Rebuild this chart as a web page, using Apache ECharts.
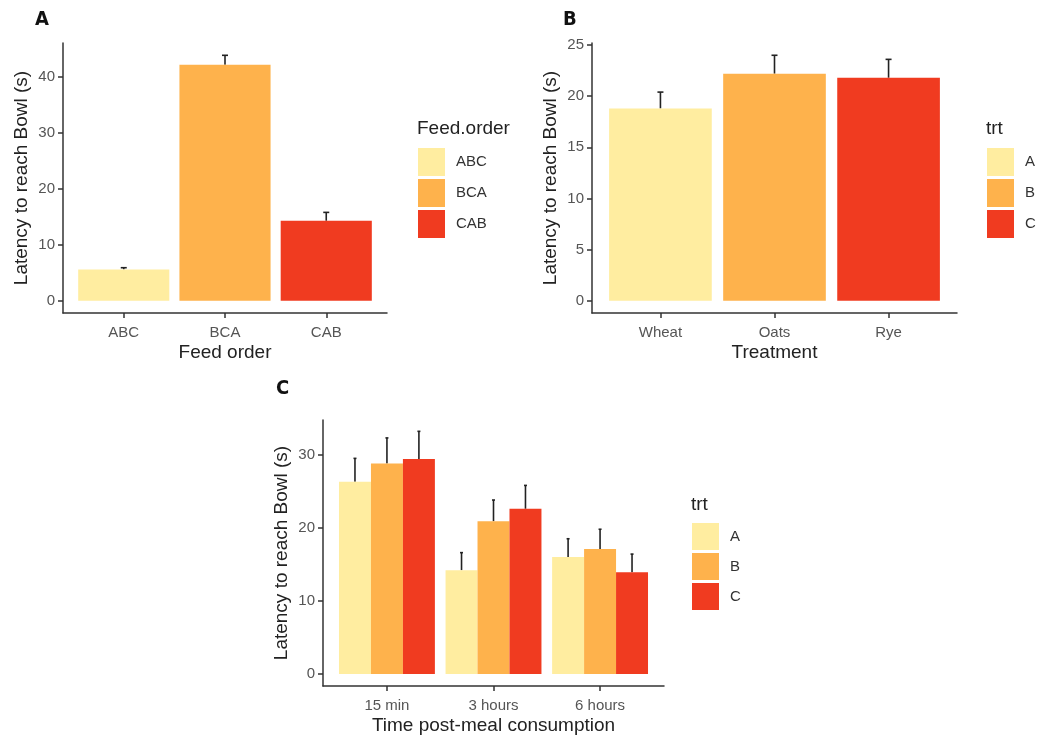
<!DOCTYPE html>
<html>
<head>
<meta charset="utf-8">
<script src="https://cdn.jsdelivr.net/npm/echarts@6/dist/echarts.min.js"></script>
<style>
  html, body { margin: 0; padding: 0; background: #fff; }
  #main { width: 1044px; height: 740px; }
</style>
</head>
<body>
<div id="main"></div>
<script>
// panel A
const feedOrders = ['ABC', 'BCA', 'CAB'];
const feedMeans = [5.6, 42.2, 14.3];
const feedUpper = [5.9, 43.9, 15.8];
const feedTicks = [0, 10, 20, 30, 40];

// panel B
const treatments = ['Wheat', 'Oats', 'Rye'];
const trtNames = ['A', 'B', 'C'];
const trtMeans = [18.8, 22.2, 21.8];
const trtUpper = [20.4, 24.0, 23.6];
const trtTicks = [0, 5, 10, 15, 20, 25];

// panel C
const times = ['15 min', '3 hours', '6 hours'];
const timeMeansA = [26.3, 14.2, 16.0];
const timeMeansB = [28.8, 20.9, 17.1];
const timeMeansC = [29.4, 22.6, 13.9];
const timeUpperA = [29.5, 16.6, 18.5];
const timeUpperB = [32.3, 23.8, 19.8];
const timeUpperC = [33.2, 25.8, 16.4];
const timeTicks = [0, 10, 20, 30];

const colors = ['#FFEDA0', '#FEB24C', '#F03B20'];
const font = 'Liberation Sans';
const axisColor = '#333';

const chart = echarts.init(document.getElementById('main'), null, { renderer: 'canvas' });

// x axis of a ggplot-like panel: categories sit at 1..n, 0.6 padding each side
function xAxisOf(idx, cats, name) {
  return {
    gridIndex: idx, type: 'value', min: 0.4, max: cats.length + 0.6,
    axisLine: { show: true, onZero: false, lineStyle: { color: axisColor, width: 1.5 } },
    axisTick: { show: true, customValues: cats.map((c, i) => i + 1), length: 5, lineStyle: { color: axisColor, width: 1.5 } },
    axisLabel: {
      customValues: cats.map((c, i) => i + 1), margin: 12,
      formatter: v => cats[Math.round(v) - 1], fontSize: 15, color: '#555', fontFamily: font
    },
    splitLine: { show: false },
    name: name, nameLocation: 'middle', nameGap: 30,
    nameTextStyle: { fontSize: 19, color: '#222', fontFamily: font }
  };
}
function yAxisOf(idx, ticks, min, max) {
  return {
    gridIndex: idx, type: 'value', min: min, max: max,
    axisLine: { show: true, onZero: false, lineStyle: { color: axisColor, width: 1.5 } },
    axisTick: { show: true, customValues: ticks, length: 5, lineStyle: { color: axisColor, width: 1.5 } },
    axisLabel: { customValues: ticks, margin: 8, fontSize: 15, color: '#555', fontFamily: font },
    splitLine: { show: false },
    name: 'Latency to reach Bowl (s)', nameLocation: 'middle', nameGap: 32,
    nameTextStyle: { fontSize: 19, color: '#222', fontFamily: font }
  };
}

// error bar (mean -> mean+se) with a small cap
function errorBar(cap) {
  return function (params, api) {
    const lo = api.coord([api.value(0), api.value(1)]);
    const hi = api.coord([api.value(0), api.value(2)]);
    const st = { stroke: '#222', lineWidth: 1.6 };
    return {
      type: 'group',
      children: [
        { type: 'line', shape: { x1: lo[0], y1: lo[1], x2: hi[0], y2: hi[1] }, style: st },
        { type: 'line', shape: { x1: hi[0] - cap, y1: hi[1], x2: hi[0] + cap, y2: hi[1] }, style: st }
      ]
    };
  };
}

const series = [];
// A: one bar per feed order
feedOrders.forEach((n, i) => {
  series.push({
    name: n, type: 'bar', xAxisIndex: 0, yAxisIndex: 0,
    data: [[i + 1, feedMeans[i]]], barWidth: '90%', barGap: '-100%',
    itemStyle: { color: colors[i] }
  });
});
series.push({
  type: 'custom', xAxisIndex: 0, yAxisIndex: 0, renderItem: errorBar(3),
  encode: { x: 0, y: [1, 2] },
  data: feedOrders.map((n, i) => [i + 1, feedMeans[i], feedUpper[i]])
});
// B: one bar per treatment
trtNames.forEach((n, i) => {
  series.push({
    name: n, type: 'bar', xAxisIndex: 1, yAxisIndex: 1,
    data: [[i + 1, trtMeans[i]]], barWidth: '90%', barGap: '-100%',
    itemStyle: { color: colors[i] }
  });
});
series.push({
  type: 'custom', xAxisIndex: 1, yAxisIndex: 1, renderItem: errorBar(3),
  encode: { x: 0, y: [1, 2] },
  data: trtNames.map((n, i) => [i + 1, trtMeans[i], trtUpper[i]])
});
// C: dodged bars
const timeMeans = [timeMeansA, timeMeansB, timeMeansC];
const timeUpper = [timeUpperA, timeUpperB, timeUpperC];
trtNames.forEach((n, s) => {
  series.push({
    name: n, type: 'bar', xAxisIndex: 2, yAxisIndex: 2,
    data: times.map((t, i) => [i + 1, timeMeans[s][i]]), barWidth: '30%', barGap: '0%',
    itemStyle: { color: colors[s] }
  });
});
series.push({
  type: 'custom', xAxisIndex: 2, yAxisIndex: 2, renderItem: errorBar(1.5),
  encode: { x: 0, y: [1, 2] },
  data: [].concat(...trtNames.map((n, s) =>
    times.map((t, i) => [i + 1 + (s - 1) * 0.3, timeMeans[s][i], timeUpper[s][i]])))
});

function legendOf(names, left, top, h) {
  return {
    data: names, left: left, top: top, orient: 'vertical', padding: 0,
    itemWidth: 27, itemHeight: h, itemGap: 3, icon: 'rect', selectedMode: false,
    textStyle: { fontSize: 15, color: '#333', fontFamily: font, padding: [0, 0, 0, 6] }
  };
}
function label(text, left, top, bold) {
  return {
    text: text, left: left, top: top, padding: 0,
    textStyle: bold
      ? { fontSize: 20, fontWeight: 'bold', color: '#111', fontFamily: '"DejaVu Sans Condensed", "Roboto Condensed", Roboto, sans-serif' }
      : { fontSize: 19, fontWeight: 'normal', color: '#222', fontFamily: font }
  };
}

chart.setOption({
  animation: false,
  textStyle: { fontFamily: font },
  title: [
    label('A', 35, 10, true),
    label('B', 563, 10, true),
    label('C', 276, 379, true),
    label('Feed.order', 417, 119, false),
    label('trt', 986, 119, false),
    label('trt', 691, 495, false)
  ],
  legend: [
    legendOf(feedOrders, 418, 148, 28),
    legendOf(trtNames, 987, 148, 28),
    legendOf(trtNames, 692, 523, 27)
  ],
  grid: [
    { left: 63, right: 657, top: 43, bottom: 427 },
    { left: 592, right: 87, top: 43, bottom: 427 },
    { left: 323, right: 380, top: 420, bottom: 54 }
  ],
  xAxis: [
    xAxisOf(0, feedOrders, 'Feed order'),
    xAxisOf(1, treatments, 'Treatment'),
    xAxisOf(2, times, 'Time post-meal consumption')
  ],
  yAxis: [
    yAxisOf(0, feedTicks, -2.2, 46.1),
    yAxisOf(1, trtTicks, -1.2, 25.2),
    yAxisOf(2, timeTicks, -1.65, 34.75)
  ],
  series: series
});
</script>
</body>
</html>
